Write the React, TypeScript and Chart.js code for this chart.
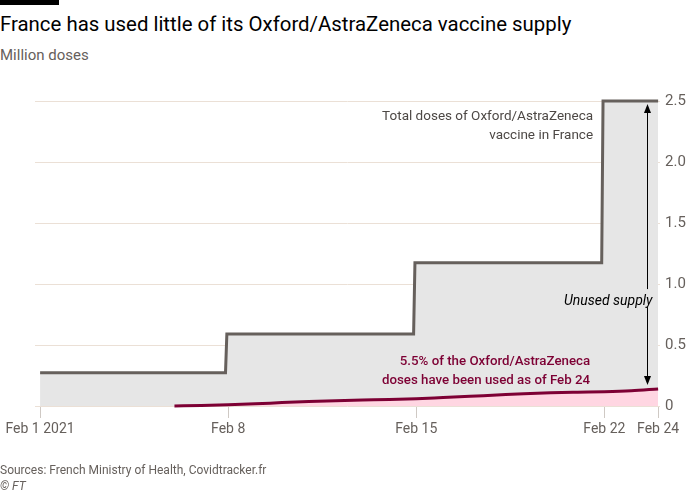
import React, { useEffect, useRef } from "react";
import { Chart, registerables } from "chart.js";

Chart.register(...registerables);

// Days since Feb 1 2021 (0 = Feb 1)
const totalDays = [0, 6.9, 6.95, 13.9, 13.95, 20.9, 20.95, 23];
const totalDoses = [0.273, 0.273, 0.59, 0.59, 1.175, 1.175, 2.5, 2.5];

const usedDays = [5, 6, 7, 8, 9, 10, 11, 12, 13, 14, 15, 16, 17, 18, 19, 20, 21, 22, 23];
const usedDoses = [0.0, 0.004, 0.01, 0.018, 0.028, 0.037, 0.044, 0.049, 0.053, 0.06, 0.07, 0.08, 0.09, 0.1, 0.108, 0.113, 0.117, 0.125, 0.14];

const xTickDays = [0, 7, 14, 21, 23];
const xTickLabels = ["Feb 1 2021", "Feb 8", "Feb 15", "Feb 22", "Feb 24"];
const yTicks = [0, 0.5, 1, 1.5, 2, 2.5];

const FONT = "Roboto, 'Open Sans', sans-serif";
const GREY_TEXT = "#66605c";
const CLARET = "#7d0034";

const annotationPlugin = {
  id: "ftAnnotations",
  afterDatasetsDraw(chart: any) {
    const { ctx, scales } = chart;
    const x = scales.x;
    const y = scales.y;
    ctx.save();
    // Total doses label
    ctx.font = `13.5px ${FONT}`;
    ctx.fillStyle = "#4d4845";
    ctx.textAlign = "right";
    ctx.textBaseline = "middle";
    const tx = x.getPixelForValue(20.58);
    ctx.fillText("Total doses of Oxford/AstraZeneca", tx, y.getPixelForValue(2.37));
    ctx.fillText("vaccine in France", tx, y.getPixelForValue(2.215));

    // Used label
    ctx.font = `500 13.3px ${FONT}`;
    ctx.fillStyle = CLARET;
    const ux = x.getPixelForValue(20.47);
    ctx.fillText("5.5% of the Oxford/AstraZeneca", ux, y.getPixelForValue(0.36));
    ctx.fillText("doses have been used as of Feb 24", ux, y.getPixelForValue(0.205));

    // Unused supply arrow
    const ax = Math.round(x.getPixelForValue(22.6)) + 0.5;
    const topY = y.getPixelForValue(2.5) + 3;
    const botY = y.getPixelForValue(usedDoses[usedDoses.length - 1]) - 4;
    const labelY = y.getPixelForValue(0.86);
    ctx.strokeStyle = "#000";
    ctx.fillStyle = "#000";
    ctx.lineWidth = 1;
    ctx.beginPath();
    ctx.moveTo(ax, topY + 6);
    ctx.lineTo(ax, labelY - 12);
    ctx.moveTo(ax, labelY + 6);
    ctx.lineTo(ax, botY - 6);
    ctx.stroke();
    ctx.beginPath();
    ctx.moveTo(ax, topY);
    ctx.lineTo(ax - 3.5, topY + 9);
    ctx.lineTo(ax + 3.5, topY + 9);
    ctx.closePath();
    ctx.fill();
    ctx.beginPath();
    ctx.moveTo(ax, botY);
    ctx.lineTo(ax - 3.5, botY - 9);
    ctx.lineTo(ax + 3.5, botY - 9);
    ctx.closePath();
    ctx.fill();

    ctx.font = `italic 14px ${FONT}`;
    ctx.fillStyle = "#000";
    ctx.textAlign = "right";
    ctx.fillText("Unused supply", ax + 5, labelY);
    ctx.restore();
  },
};

export default function App() {
  const canvasRef = useRef<HTMLCanvasElement | null>(null);

  useEffect(() => {
    document.body.style.margin = "0";
    const canvas = canvasRef.current;
    if (!canvas) return;
    const chart = new Chart(canvas, {
      type: "line",
      data: {
        datasets: [
          {
            label: "Total doses",
            data: totalDays.map((d, i) => ({ x: d, y: totalDoses[i] })),
            borderColor: "#66605c",
            borderWidth: 3,
            backgroundColor: "#e6e6e6",
            fill: "origin",
            pointRadius: 0,
            tension: 0,
            order: 2,
            clip: false as any,
          },
          {
            label: "Used doses",
            data: usedDays.map((d, i) => ({ x: d, y: usedDoses[i] })),
            borderColor: CLARET,
            borderWidth: 3,
            backgroundColor: "#ffd6e2",
            fill: "origin",
            pointRadius: 0,
            tension: 0.3,
            cubicInterpolationMode: "monotone",
            order: 1,
            clip: false as any,
          },
        ],
      },
      options: {
        animation: false,
        responsive: false,
        layout: { padding: { left: 35, right: 0, top: 101, bottom: 52 } },
        plugins: {
          legend: { display: false },
          tooltip: { enabled: false },
          title: { display: false },
        },
        scales: {
          x: {
            type: "linear",
            min: -0.19,
            max: 23.07,
            afterFit: (axis: any) => {
              axis.height = 35;
            },
            afterBuildTicks: (axis: any) => {
              axis.ticks = xTickDays.map((v) => ({ value: v }));
            },
            border: { display: false },
            grid: {
              display: true,
              drawOnChartArea: false,
              drawTicks: true,
              tickLength: 12,
              color: "#cfc9c4",
            },
            ticks: {
              autoSkip: false,
              maxRotation: 0,
              padding: 3,
              color: GREY_TEXT,
              font: { family: FONT, size: 14 },
              callback: (v: any) => {
                const i = xTickDays.indexOf(Number(v));
                return i >= 0 ? xTickLabels[i] : "";
              },
            },
          },
          y: {
            position: "right",
            min: 0,
            max: 2.5,
            afterFit: (axis: any) => {
              axis.width = 30;
            },
            afterBuildTicks: (axis: any) => {
              axis.ticks = yTicks.map((v) => ({ value: v }));
            },
            border: { display: false },
            grid: {
              color: "#ebe0d6",
              drawTicks: false,
            },
            ticks: {
              padding: 5,
              color: GREY_TEXT,
              font: { family: FONT, size: 15 },
              callback: (v: any) => (Number(v) === 0 ? "0" : Number(v).toFixed(1)),
            },
          },
        },
      },
      plugins: [annotationPlugin],
    });
    return () => chart.destroy();
  }, []);

  return (
    <div style={{ position: "relative", width: 690, height: 493, background: "#fff", fontFamily: FONT, overflow: "hidden" }}>
      <div style={{ position: "absolute", left: 0, top: 0, width: 59, height: 5, background: "#000" }} />
      <div style={{ position: "absolute", left: 0, top: 11, fontSize: 20.4, lineHeight: "26px", color: "#000", whiteSpace: "nowrap" }}>
        France has used little of its Oxford/AstraZeneca vaccine supply
      </div>
      <div style={{ position: "absolute", left: 0, top: 45, fontSize: 15, lineHeight: "20px", color: GREY_TEXT, whiteSpace: "nowrap" }}>
        Million doses
      </div>
      <canvas ref={canvasRef} width={690} height={493} style={{ position: "absolute", left: 0, top: 0, width: 690, height: 493 }} />
      <div style={{ position: "absolute", left: 0, top: 462, fontSize: 12, lineHeight: "16px", color: GREY_TEXT, whiteSpace: "nowrap" }}>
        Sources: French Ministry of Health, Covidtracker.fr
      </div>
      <div style={{ position: "absolute", left: 0, top: 478, fontSize: 12, lineHeight: "16px", color: GREY_TEXT, fontStyle: "italic", whiteSpace: "nowrap" }}>
        © FT
      </div>
    </div>
  );
}
